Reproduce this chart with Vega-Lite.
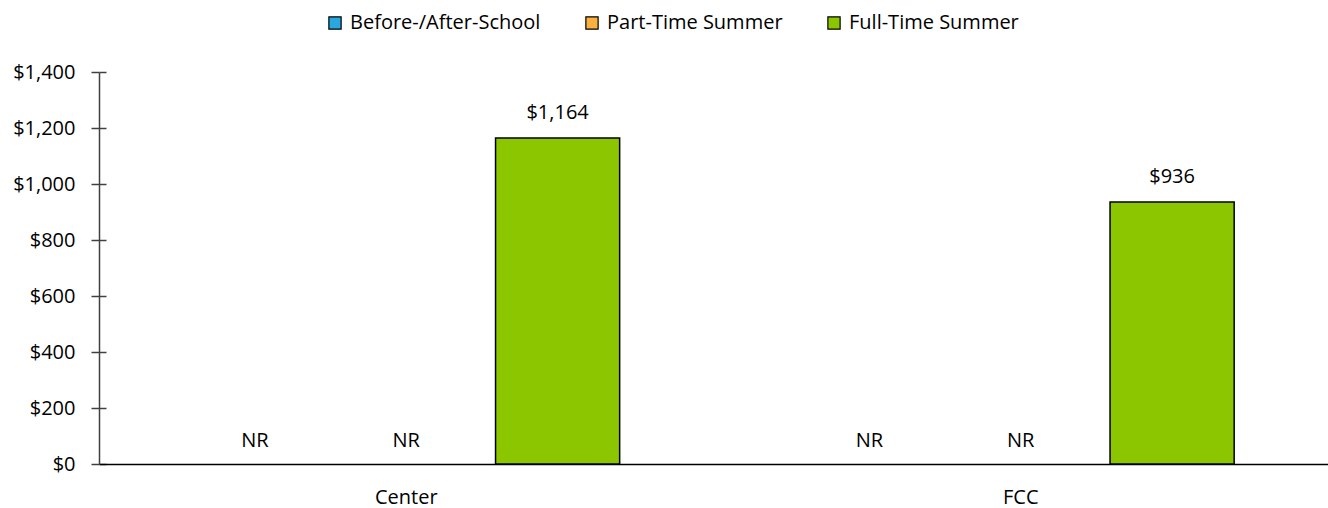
{
  "$schema": "https://vega.github.io/schema/vega-lite/v6.json",
  "width": 1229,
  "height": 392,
  "autosize": {"type": "none"},
  "padding": {"left": 99, "top": 72, "right": 0, "bottom": 44},
  "background": "white",
  "config": {
    "view": {"stroke": null},
    "font": "Open Sans",
    "axis": {"labelFont": "Open Sans", "labelFontSize": 20, "labelColor": "#000000"},
    "legend": {"labelFont": "Open Sans", "labelFontSize": 20, "labelColor": "#000000"}
  },
  "data": {
    "values": [
      {"setting": "Center", "type": "Before-/After-School", "cost": null},
      {"setting": "Center", "type": "Part-Time Summer", "cost": null},
      {"setting": "Center", "type": "Full-Time Summer", "cost": 1164},
      {"setting": "FCC", "type": "Before-/After-School", "cost": null},
      {"setting": "FCC", "type": "Part-Time Summer", "cost": null},
      {"setting": "FCC", "type": "Full-Time Summer", "cost": 936}
    ]
  },
  "encoding": {
    "x": {
      "field": "setting", "type": "nominal", "sort": ["Center", "FCC"],
      "scale": {"paddingInner": 0, "paddingOuter": 0},
      "axis": {"title": null, "labelAngle": 0, "ticks": false, "grid": false, "domainColor": "#000000", "domainWidth": 1.5, "labelPadding": 23}
    },
    "xOffset": {
      "field": "type", "type": "nominal",
      "sort": ["Before-/After-School", "Part-Time Summer", "Full-Time Summer"],
      "scale": {"paddingInner": 0.18, "paddingOuter": 0.62}
    }
  },
  "layer": [
    {
      "mark": {"type": "bar", "stroke": "#000000", "strokeWidth": 1.5},
      "transform": [{"filter": "datum.cost != null"}],
      "encoding": {
        "y": {
          "field": "cost", "type": "quantitative",
          "scale": {"domain": [0, 1400]},
          "axis": {
            "title": null, "values": [0, 200, 400, 600, 800, 1000, 1200, 1400], "format": "$,.0f",
            "domain": true, "domainColor": "#404040", "domainWidth": 1.5,
            "tickColor": "#404040", "tickSize": 8, "tickWidth": 1.5, "labelPadding": 16,
            "grid": true, "gridColor": "#404040", "gridWidth": 1.5, "gridDash": [7, 3000]
          }
        },
        "color": {
          "field": "type", "type": "nominal",
          "scale": {"domain": ["Before-/After-School", "Part-Time Summer", "Full-Time Summer"], "range": ["#29A8E0", "#FBB040", "#8CC600"]},
          "legend": {
            "title": null, "orient": "none", "direction": "horizontal",
            "legendX": 226, "legendY": -59,
            "symbolType": "square", "symbolSize": 150, "symbolStrokeColor": "#000000", "symbolStrokeWidth": 1.2,
            "columnPadding": 41, "labelOffset": 5, "labelLimit": 400
          }
        }
      }
    },
    {
      "mark": {"type": "text", "baseline": "bottom", "dy": -15, "fontSize": 20, "color": "#000000"},
      "transform": [{"filter": "datum.cost != null"}],
      "encoding": {
        "y": {"field": "cost", "type": "quantitative"},
        "text": {"field": "cost", "type": "quantitative", "format": "$,.0f"}
      }
    },
    {
      "mark": {"type": "text", "baseline": "middle", "dy": -23, "fontSize": 20, "color": "#000000", "text": "NR"},
      "transform": [{"filter": "datum.cost == null"}],
      "encoding": {
        "y": {"datum": 0, "type": "quantitative"}
      }
    }
  ]
}
